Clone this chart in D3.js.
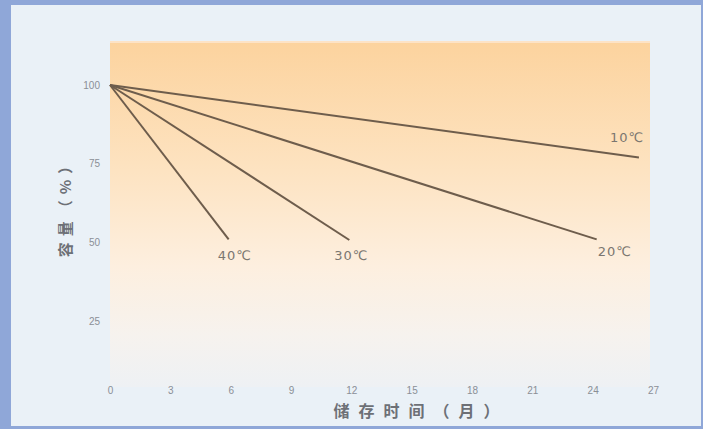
<!DOCTYPE html>
<html><head><meta charset="utf-8">
<script src="https://cdn.jsdelivr.net/npm/d3@7"></script>
<style>html,body{margin:0;padding:0;background:#eaf1f7;overflow:hidden}</style>
</head><body>
<svg id="c" width="703" height="429"></svg>
<script>
const xTicks = [0,3,6,9,12,15,18,21,24,27];
const yTicks = [25,50,75,100];
const seriesNames = ["10℃","20℃","30℃","40℃"];
const series10 = [[0,100],[26.3,77]];
const series20 = [[0,100],[24.2,51]];
const series30 = [[0,100],[11.9,50.8]];
const series40 = [[0,100],[5.9,51]];
const allSeries = [series10, series20, series30, series40];
const labelOffsets = [[-29,-15],[1,17],[-15,20],[-11,21]];

const svg = d3.select("#c");
const W = 703, H = 429;
// border
svg.append("rect").attr("x",0).attr("y",0).attr("width",W).attr("height",H).attr("fill","#8fa7d8");
svg.append("rect").attr("x",11).attr("y",5).attr("width",W-13).attr("height",H-8).attr("fill","#eaf1f7");

const x = d3.scaleLinear().domain([0,27]).range([110,653]);
const y = d3.scaleLinear().domain([0,100]).range([400,85]);

const defs = svg.append("defs");
const g = defs.append("linearGradient").attr("id","bg").attr("x1",0).attr("y1",0).attr("x2",0).attr("y2",1);
g.append("stop").attr("offset","0").attr("stop-color","#fcd39e");
g.append("stop").attr("offset","0.35").attr("stop-color","#fde2bf");
g.append("stop").attr("offset","0.65").attr("stop-color","#fdefdf");
g.append("stop").attr("offset","0.85").attr("stop-color","#f6f2ee");
g.append("stop").attr("offset","1").attr("stop-color","#eef1f4");
svg.append("rect").attr("x",110).attr("y",42).attr("width",540).attr("height",345).attr("fill","url(#bg)");
svg.append("rect").attr("x",110).attr("y",41).attr("width",540).attr("height",2).attr("fill","#fde3c6");

// axes (tick labels only)
const xa = svg.append("g").attr("transform","translate(0,391)")
  .call(d3.axisBottom(x).tickValues(xTicks).tickSize(0).tickPadding(0));
xa.select(".domain").remove();
xa.selectAll("text").attr("fill","#8a8f96").attr("font-family","Liberation Sans, Arial").attr("font-size",10).attr("dy","0.32em");

const ya = svg.append("g").attr("transform","translate(100,0)")
  .call(d3.axisLeft(y).tickValues(yTicks).tickSize(0).tickPadding(0));
ya.select(".domain").remove();
ya.selectAll("text").attr("fill","#8a8f96").attr("font-family","Liberation Sans, Arial").attr("font-size",10);

// lines
const line = d3.line().x(d=>x(d[0])).y(d=>y(d[1]));
svg.selectAll("path.s").data(allSeries).enter().append("path")
  .attr("class","s").attr("d",line).attr("fill","none")
  .attr("stroke","#6e5d4c").attr("stroke-width",2);

svg.selectAll("text.lbl").data(allSeries).enter().append("text")
  .attr("class","lbl")
  .attr("x",(d,i)=>x(d[1][0])+labelOffsets[i][0])
  .attr("y",(d,i)=>y(d[1][1])+labelOffsets[i][1])
  .attr("fill","#7a7670").attr("font-family","DejaVu Sans, Noto Sans CJK SC").attr("font-size",13)
  .attr("letter-spacing",1)
  .text((d,i)=>seriesNames[i]);

// axis titles
svg.append("text").attr("x",421).attr("y",417).attr("text-anchor","middle")
  .attr("font-family","Noto Sans CJK SC").attr("font-size",16).attr("font-weight","bold")
  .attr("letter-spacing",9).attr("fill","#6d7076").text("储存时间（月）");
svg.append("text").attr("transform","translate(71,205) rotate(-90)").attr("text-anchor","middle")
  .attr("font-family","Noto Sans CJK SC").attr("font-size",15).attr("font-weight","bold")
  .attr("letter-spacing",6).attr("fill","#6d7076").text("容量（%）");
</script>
</body></html>
